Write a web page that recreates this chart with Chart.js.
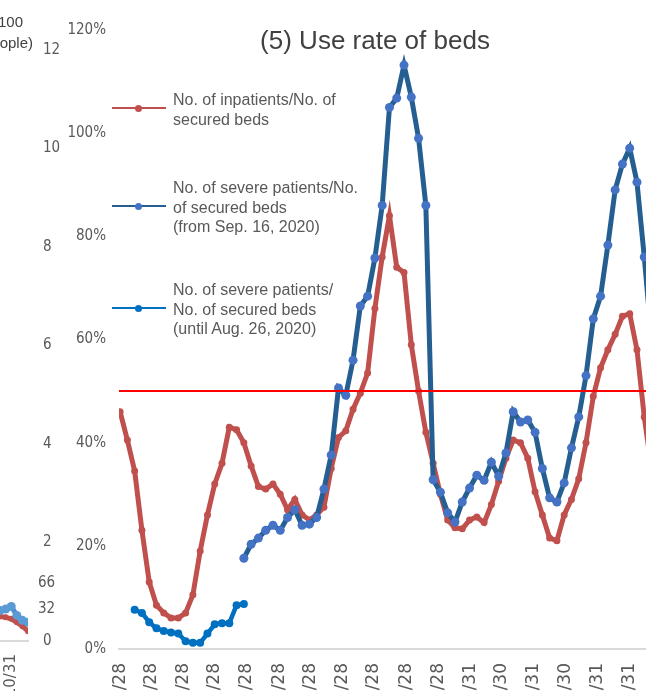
<!DOCTYPE html>
<html>
<head>
<meta charset="utf-8">
<script src="https://cdn.jsdelivr.net/npm/chart.js@4.4.1/dist/chart.umd.min.js"></script>
<style>
  html, body { margin: 0; padding: 0; background: #fff; overflow: hidden; }
  #wrap { position: relative; width: 646px; height: 691px; overflow: hidden; }
  canvas { position: absolute; top: 0; }
  .txt { position: absolute; font-family: "Liberation Sans", Arial, sans-serif; color: #595959; white-space: nowrap; }
  .num { position: absolute; font-family: "Liberation Sans Narrow", "DejaVu Sans Condensed", Arial, sans-serif; font-size: 15px; color: #595959; line-height: 16px; }
  #title { left: 125px; width: 500px; top: 24px; text-align: center; font-size: 26px; line-height: 32px; color: #404040; }
  .lg-item { position: absolute; left: 112px; }
  .lg-line { position: absolute; left: 0; width: 54px; height: 2px; }
  .lg-dot { position: absolute; left: 23px; width: 7px; height: 7px; border-radius: 50%; }
  .lg-text { position: absolute; left: 61px; font-size: 16px; line-height: 19.5px; }
</style>
</head>
<body>
<div id="wrap">
  <canvas id="prevChart" width="260" height="740" style="left:-200px"></canvas>
  <canvas id="bedChart" width="707" height="729" style="left:0"></canvas>
  <div class="txt" style="right:623px; top:13px; font-size:15px; color:#404040">(per 100</div>
  <div class="txt" style="right:613px; top:34px; font-size:15px; color:#404040">thousand people)</div>
  <div class="num" style="left:38px; top:574px">66</div>
  <div class="num" style="left:38px; top:600px">32</div>
  <div id="title" class="txt">(5) Use rate of beds</div>
  <div id="legend"></div>
</div>
<script>
// weekly values, week 0 = 2020-04-28
const inpatientRate = [46, 40.5, 34.5, 23, 13, 8.5, 7, 6, 6, 7,
  10.5, 19, 26, 32, 36, 43, 42.5, 40, 35.5, 31.5,
  31, 32, 30, 27, 29, 26, 25, 26, 27.5, 35,
  41, 42.3, 46.5, 49.6, 53.5, 66, 76, 84, 74, 73,
  59, 50, 42, 36, 30, 25, 23.5, 23.3, 25, 25.6,
  24.5, 28, 32.5, 37, 40.5, 40, 37, 30.5, 26, 21.5,
  21, 26, 29, 33, 40, 49, 54.5, 58, 61, 64.5,
  65, 58, 45, 35, 28];
const inpatientStart = 0;

const severeRateNew = [17.6, 20.3, 21.5, 23, 24, 23, 25.5, 27, 24, 24.2,
  25.5, 31, 37.6, 50.6, 49.2, 56, 66.5, 68.4, 75.8, 86,
  105, 106.8, 113.2, 107, 99, 86, 32.8, 30.4, 26.4, 24.6,
  28.5, 31.2, 33.7, 32.7, 36.2, 33.5, 38, 46, 44, 44.4,
  42, 35, 29.3, 28.5, 32.2, 39, 45, 53, 64, 68.4,
  78.3, 89, 94, 97.1, 90.5, 76, 60, 45];
const severeNewStart = 17;

const severeRateOld = [7.6, 7, 5.2, 4, 3.5, 3.2, 3, 1.5, 1.2, 1.2, 3, 4.8, 5, 5, 8.5, 8.7];
const severeOldStart = 2;

const thresholdRate = 50;

const seriesNames = [
  ['No. of inpatients/No. of', 'secured beds'],
  ['No. of severe patients/No.', 'of secured beds', '(from Sep. 16, 2020)'],
  ['No. of severe patients/', 'No. of secured beds', '(until Aug. 26, 2020)']
];

const firstDay = '2020-04-28';
const tickDates = ['2020-04-28', '2020-05-28', '2020-06-28', '2020-07-28', '2020-08-28', '2020-09-28',
  '2020-10-28', '2020-11-28', '2020-12-28', '2021-01-28', '2021-02-28', '2021-03-31',
  '2021-04-30', '2021-05-31', '2021-06-30', '2021-07-31', '2021-08-31'];
const tickLabels = ['4/28', '5/28', '6/28', '7/28', '8/28', '9/28', '10/28', '11/28', '12/28',
  '1/28', '2/28', '3/31', '4/30', '5/31', '6/30', '7/31', '8/31'];
const yTicks = [0, 20, 40, 60, 80, 100, 120];

// tail of the previous chart (left side)
const prevBlue = [0.5, 0.62, 0.65, 0.7, 0.52, 0.42, 0.38];
const prevRed = [0.55, 0.5, 0.48, 0.45, 0.38, 0.3, 0.2];
const prevStart = 34;
const prevTickWeek = [37];
const prevTickLabel = ['10/31'];
const prevYTicks = [0, 2, 4, 6, 8, 10, 12];

function toWeek(d) {
  return (Date.parse(d + 'T00:00:00Z') - Date.parse(firstDay + 'T00:00:00Z')) / (7 * 86400000);
}
function weekly(values, start) {
  return values.map((v, i) => ({ x: start + i, y: v }));
}

const tickWeeks = tickDates.map(toWeek);
const xMin = -0.15, xMax = 80;
const gray = '#595959';

const bedChart = new Chart(document.getElementById('bedChart').getContext('2d'), {
  type: 'line',
  data: {
    datasets: [
      {
        label: 'threshold',
        data: [{ x: xMin, y: thresholdRate }, { x: xMax, y: thresholdRate }],
        borderColor: '#ff0000',
        borderWidth: 2,
        pointRadius: 0,
        order: 0
      },
      {
        label: seriesNames[2].join(' '),
        data: weekly(severeRateOld, severeOldStart),
        borderColor: '#0070c0',
        backgroundColor: '#0070c0',
        borderWidth: 4.5,
        pointRadius: 4,
        pointBorderWidth: 0,
        order: 1
      },
      {
        label: seriesNames[1].join(' '),
        data: weekly(severeRateNew, severeNewStart),
        borderColor: '#255e91',
        backgroundColor: '#4472c4',
        borderWidth: 5,
        pointRadius: 4.5,
        pointBorderWidth: 0,
        order: 2
      },
      {
        label: seriesNames[0].join(' '),
        data: weekly(inpatientRate, inpatientStart),
        borderColor: '#c0504d',
        backgroundColor: '#c0504d',
        borderWidth: 5,
        pointRadius: 3.5,
        pointBorderWidth: 0,
        order: 3
      }
    ]
  },
  options: {
    responsive: false,
    animation: false,
    events: [],
    layout: { padding: { top: 30, left: 0, right: 0, bottom: 0 } },
    plugins: { legend: { display: false }, tooltip: { enabled: false } },
    scales: {
      x: {
        type: 'linear',
        min: xMin,
        max: xMax,
        grid: { display: false, drawTicks: false },
        border: { color: '#d9d9d9', width: 2 },
        afterBuildTicks: s => { s.ticks = tickWeeks.map(v => ({ value: v })); },
        afterFit: s => { s.height = 80; },
        ticks: {
          autoSkip: false,
          minRotation: 90,
          maxRotation: 90,
          padding: 14,
          color: gray,
          font: { family: '"DejaVu Sans", sans-serif', size: 17 },
          callback: v => tickLabels[tickWeeks.findIndex(w => Math.abs(w - v) < 0.01)]
        }
      },
      y: {
        min: 0,
        max: 120,
        grid: { display: false, drawTicks: false },
        border: { display: false },
        afterBuildTicks: s => { s.ticks = yTicks.map(v => ({ value: v })); },
        afterFit: s => { s.width = 119; },
        ticks: {
          padding: 13,
          color: gray,
          font: { family: '"Liberation Sans Narrow", "DejaVu Sans Condensed", sans-serif', size: 15 },
          callback: v => v + '%'
        }
      }
    }
  }
});

new Chart(document.getElementById('prevChart').getContext('2d'), {
  type: 'line',
  data: {
    datasets: [
      {
        data: weekly(prevBlue, prevStart),
        borderColor: '#4a8ad0',
        backgroundColor: '#5b9bd5',
        borderWidth: 5,
        pointRadius: 4.5,
        pointBorderWidth: 0
      },
      {
        data: weekly(prevRed, prevStart),
        borderColor: '#c0504d',
        backgroundColor: '#c0504d',
        borderWidth: 5,
        pointRadius: 3,
        pointBorderWidth: 0
      }
    ]
  },
  options: {
    responsive: false,
    animation: false,
    events: [],
    layout: { padding: { top: 50, left: 0, right: 0, bottom: 0 } },
    plugins: { legend: { display: false }, tooltip: { enabled: false } },
    scales: {
      x: {
        type: 'linear',
        min: 0,
        max: 40,
        grid: { display: false, drawTicks: false },
        border: { color: '#d9d9d9', width: 2 },
        afterBuildTicks: s => { s.ticks = prevTickWeek.map(v => ({ value: v })); },
        afterFit: s => { s.height = 99; },
        ticks: {
          autoSkip: false,
          minRotation: 90,
          maxRotation: 90,
          padding: 13,
          color: gray,
          font: { family: '"DejaVu Sans", sans-serif', size: 15 },
          callback: v => prevTickLabel[prevTickWeek.indexOf(v)]
        }
      },
      y: {
        position: 'right',
        min: 0,
        max: 12,
        grid: { display: false, drawTicks: false },
        border: { display: false },
        afterBuildTicks: s => { s.ticks = prevYTicks.map(v => ({ value: v })); },
        afterFit: s => { s.width = 32; },
        ticks: {
          padding: 15,
          color: gray,
          font: { family: '"Liberation Sans Narrow", "DejaVu Sans Condensed", sans-serif', size: 15 }
        }
      }
    }
  }
});

// legend drawn as html, from the datasets, placed inside the plot
const legendTops = [90, 178, 280];
const legendLineY = [17, 27, 27];
const legendOrder = [3, 2, 1];
const legendBox = document.getElementById('legend');
legendOrder.forEach((di, k) => {
  const ds = bedChart.data.datasets[di];
  const item = document.createElement('div');
  item.className = 'lg-item';
  item.style.top = legendTops[k] + 'px';
  item.innerHTML =
    '<div class="lg-line" style="top:' + legendLineY[k] + 'px;background:' + ds.borderColor + '"></div>' +
    '<div class="lg-dot" style="top:' + (legendLineY[k] - 2.5) + 'px;background:' + ds.backgroundColor + '"></div>' +
    '<div class="lg-text txt">' + seriesNames[k].join('<br>') + '</div>';
  legendBox.appendChild(item);
});
</script>
</body>
</html>
